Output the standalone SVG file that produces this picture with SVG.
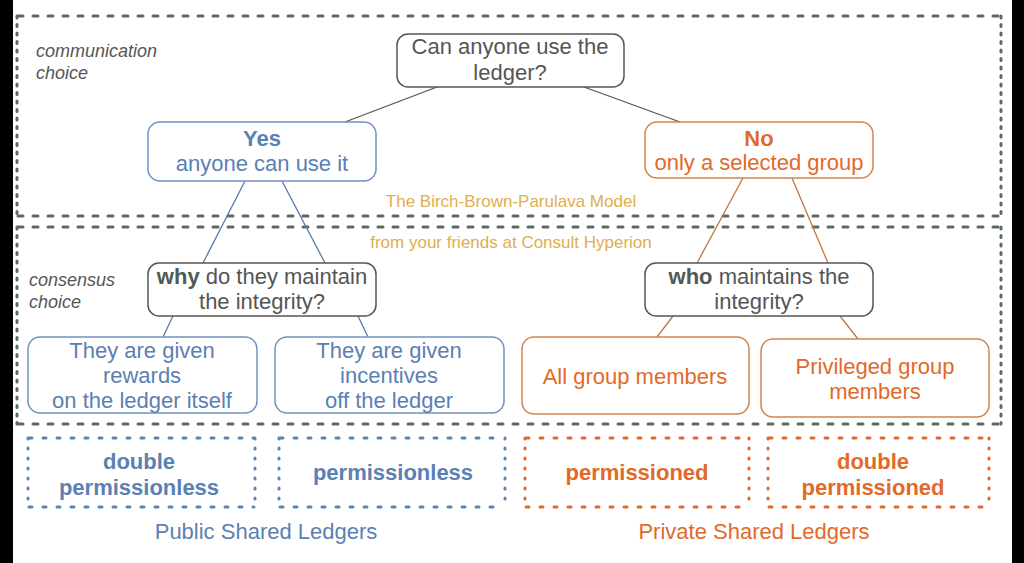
<svg xmlns="http://www.w3.org/2000/svg" width="1024" height="563" viewBox="0 0 1024 563">
<style>
text{font-family:"Liberation Sans",Arial,sans-serif;text-anchor:middle}
.zh{fill:none;stroke:#5d6a63;stroke-width:3;stroke-dasharray:5 10;stroke-linecap:round}
.zv{fill:none;stroke:#5d6a63;stroke-width:3;stroke-dasharray:2 6.5;stroke-linecap:round}
.nd{fill:#fff;stroke-width:1.5}
.g{stroke:#555}.b{stroke:#6f93bf}.o{stroke:#cf8550}
.tg{fill:#555;font-size:22px}.tb{fill:#5b80b2;font-size:22px}.to{fill:#e2692a;font-size:22px}
.bold{font-weight:bold}
.dk{fill:#4e5a54;font-weight:bold}
.side{fill:#555;font-size:18px;font-style:italic;text-anchor:start}
.gold{fill:#dfae4e;font-size:17px}
.dh{fill:none;stroke-width:3;stroke-dasharray:3 11;stroke-linecap:round}
.dv{fill:none;stroke-width:3;stroke-dasharray:1 9;stroke-linecap:round}
.bl{stroke:#5b84b8}.or{stroke:#e2692a}
.cl{fill:none;stroke-width:1.3}
</style>
<rect x="0" y="0" width="1024" height="563" fill="#fff"/>
<rect x="0" y="0" width="13" height="563" fill="#000"/>
<rect x="1012" y="0" width="12" height="563" fill="#000"/>
<g id="zones">
<path class="zh" d="M18 16H1001M18 216H1001M18 227H1001M18 424H1001"/>
<path class="zv" d="M17 16V216M1001 16V216M17 227V424M1001 227V424"/>
<text class="side" x="36" y="57">communication</text>
<text class="side" x="36" y="79">choice</text>
<text class="side" x="29" y="286">consensus</text>
<text class="side" x="29" y="308">choice</text>
<text class="gold" x="511" y="207">The Birch-Brown-Parulava Model</text>
<text class="gold" x="511" y="248">from your friends at Consult Hyperion</text>
</g>
<g id="connectors">
<line class="cl" stroke="#555" x1="437" y1="87" x2="345" y2="122"/>
<line class="cl" stroke="#555" x1="584" y1="87" x2="680" y2="122"/>
<line class="cl" stroke="#5b7aa3" x1="245" y1="181" x2="203" y2="263"/>
<line class="cl" stroke="#5b7aa3" x1="282" y1="181" x2="325" y2="263"/>
<line class="cl" stroke="#5b7aa3" x1="173" y1="316" x2="163" y2="337"/>
<line class="cl" stroke="#5b7aa3" x1="358" y1="316" x2="368" y2="337"/>
<line class="cl" stroke="#c47541" x1="743" y1="178" x2="697" y2="263"/>
<line class="cl" stroke="#c47541" x1="792" y1="178" x2="828" y2="263"/>
<line class="cl" stroke="#c47541" x1="673" y1="316" x2="657" y2="337"/>
<line class="cl" stroke="#c47541" x1="840" y1="316" x2="858" y2="339"/>
</g>
<g id="root">
<rect class="nd g" x="397" y="34" width="227" height="53" rx="11"/>
<text class="tg" x="510" y="54">Can anyone use the</text>
<text class="tg" x="510" y="80">ledger?</text>
</g>
<g id="yes">
<rect class="nd b" x="148" y="122" width="228" height="59" rx="12"/>
<text class="tb bold" x="262" y="146">Yes</text>
<text class="tb" x="262" y="171">anyone can use it</text>
</g>
<g id="no">
<rect class="nd o" x="645" y="122" width="228" height="56" rx="12"/>
<text class="to bold" x="759" y="146">No</text>
<text class="to" x="759" y="170">only a selected group</text>
</g>
<g id="why">
<rect class="nd g" x="148" y="263" width="228" height="53" rx="11"/>
<text class="tg" x="262" y="284"><tspan class="dk">why</tspan> do they maintain</text>
<text class="tg" x="262" y="309">the integrity?</text>
</g>
<g id="who">
<rect class="nd g" x="645" y="263" width="228" height="53" rx="11"/>
<text class="tg" x="759" y="284"><tspan class="dk">who</tspan> maintains the</text>
<text class="tg" x="759" y="309">integrity?</text>
</g>
<g id="leaf-rewards">
<rect class="nd b" x="28" y="337" width="229" height="76" rx="12"/>
<text class="tb" x="142" y="358">They are given</text>
<text class="tb" x="142" y="383">rewards</text>
<text class="tb" x="142" y="408">on the ledger itself</text>
</g>
<g id="leaf-incentives">
<rect class="nd b" x="275" y="337" width="229" height="76" rx="12"/>
<text class="tb" x="389" y="358">They are given</text>
<text class="tb" x="389" y="383">incentives</text>
<text class="tb" x="389" y="408">off the ledger</text>
</g>
<g id="leaf-all">
<rect class="nd o" x="522" y="337" width="227" height="77" rx="12"/>
<text class="to" x="635" y="384">All group members</text>
</g>
<g id="leaf-privileged">
<rect class="nd o" x="761" y="339" width="228" height="78" rx="12"/>
<text class="to" x="875" y="374">Privileged group</text>
<text class="to" x="875" y="399">members</text>
</g>
<g id="double-permissionless">
<path class="dh bl" d="M29 438H254M29 507H254"/>
<path class="dv bl" d="M28 438V507M255 438V507"/>
<text class="tb bold" x="139" y="469">double</text>
<text class="tb bold" x="139" y="495">permissionless</text>
</g>
<g id="permissionless">
<path class="dh bl" d="M280 438H504M280 507H504"/>
<path class="dv bl" d="M279 438V507M505 438V507"/>
<text class="tb bold" x="393" y="480">permissionless</text>
</g>
<g id="permissioned">
<path class="dh or" d="M526 438H748M526 507H748"/>
<path class="dv or" d="M525 438V507M749 438V507"/>
<text class="to bold" x="637" y="480">permissioned</text>
</g>
<g id="double-permissioned">
<path class="dh or" d="M769 438H988M769 507H988"/>
<path class="dv or" d="M768 438V507M989 438V507"/>
<text class="to bold" x="873" y="469">double</text>
<text class="to bold" x="873" y="495">permissioned</text>
</g>
<g id="labels">
<text class="tb" x="266" y="539">Public Shared Ledgers</text>
<text class="to" x="754" y="539">Private Shared Ledgers</text>
</g>
</svg>
